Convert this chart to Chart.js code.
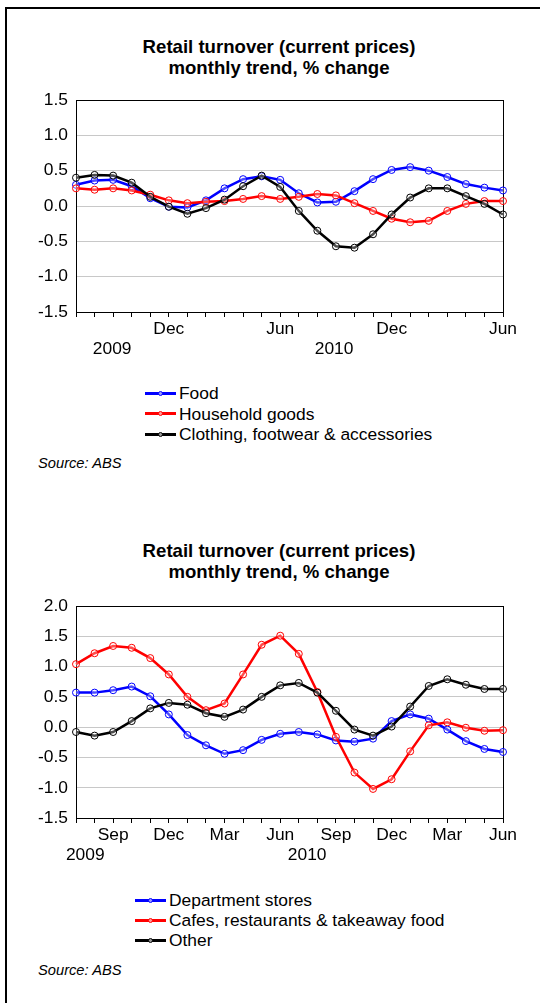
<!DOCTYPE html>
<html lang="en">
<head>
<meta charset="UTF-8">
<title>Retail turnover (current prices)</title>
<style>
  body { margin: 0; background: #fff; color: #000; font-family: "Liberation Sans", Arial, sans-serif; }
  #page { position: relative; width: 540px; height: 1003px; overflow: hidden; }
  #frame { position: absolute; left: 5px; top: 7px; width: 600px; height: 1100px; border-top: 2px solid #000; border-left: 2px solid #000; }
  .title { position: absolute; left: 0; width: 558px; text-align: center; font-weight: bold; font-size: 18.6px; line-height: 20.5px; }
  .chart-box { position: absolute; left: 0; width: 540px; }
  .legend { position: absolute; font-size: 17.4px; }
  .legend .item { display: flex; align-items: center; white-space: nowrap; }
  .legend .key { position: relative; width: 31px; height: 3px; margin-right: 3px; }
  .legend .key::after { content: ''; position: absolute; left: 13px; top: -1px; width: 3px; height: 3px;
    border: 1px solid; border-color: inherit; border-radius: 50%; background: rgba(255,255,255,0.6); }
  .source { position: absolute; left: 38px; font-style: italic; font-size: 14.7px; line-height: 17px; }
</style>
<script src="https://cdn.jsdelivr.net/npm/chart.js"></script>
</head>
<body>
<div id="page">
  <div id="frame"></div>

  <div class="title" style="top:37px">Retail turnover (current prices)<br>monthly trend, % change</div>
  <div class="chart-box" style="top:80px; height:290px"><canvas id="chart1"></canvas></div>
  <div class="legend" id="legend1" style="left:145px; top:383px; line-height:20.5px"></div>
  <div class="source" style="top:455px">Source: ABS</div>

  <div class="title" style="top:541px">Retail turnover (current prices)<br>monthly trend, % change</div>
  <div class="chart-box" style="top:580px; height:300px"><canvas id="chart2"></canvas></div>
  <div class="legend" id="legend2" style="left:135px; top:890px; line-height:20px"></div>
  <div class="source" style="top:962px">Source: ABS</div>
</div>

<script>
  // months along the axis, Jul through Jun twice
  const months = ['Jul', 'Aug', 'Sep', 'Oct', 'Nov', 'Dec', 'Jan', 'Feb', 'Mar', 'Apr', 'May', 'Jun',
                  'Jul', 'Aug', 'Sep', 'Oct', 'Nov', 'Dec', 'Jan', 'Feb', 'Mar', 'Apr', 'May', 'Jun'];

  // top chart
  const shownMonths1 = ['Dec', 'Jun'];
  const years1 = ['2009', '2010'];
  const food      = [0.30, 0.36, 0.37, 0.28, 0.11, -0.01, -0.02, 0.08, 0.25, 0.38, 0.42, 0.37,
                     0.18, 0.05, 0.06, 0.21, 0.38, 0.51, 0.55, 0.50, 0.41, 0.31, 0.26, 0.22];
  const household = [0.25, 0.23, 0.25, 0.22, 0.16, 0.08, 0.04, 0.06, 0.07, 0.10, 0.14, 0.10,
                     0.13, 0.17, 0.15, 0.04, -0.07, -0.18, -0.23, -0.21, -0.07, 0.03, 0.07, 0.07];
  const clothing  = [0.40, 0.44, 0.43, 0.33, 0.13, -0.01, -0.11, -0.03, 0.09, 0.28, 0.43, 0.27,
                     -0.07, -0.35, -0.57, -0.59, -0.40, -0.12, 0.12, 0.25, 0.25, 0.14, 0.03, -0.12];

  // bottom chart
  const shownMonths2 = ['Sep', 'Dec', 'Mar', 'Jun'];
  const years2 = ['2009', '2010'];
  const deptStores = [0.57, 0.57, 0.61, 0.67, 0.51, 0.21, -0.13, -0.30, -0.44, -0.38, -0.21, -0.11,
                      -0.08, -0.12, -0.22, -0.24, -0.19, 0.10, 0.21, 0.14, -0.04, -0.23, -0.36, -0.41];
  const cafes      = [1.04, 1.22, 1.34, 1.31, 1.14, 0.87, 0.50, 0.28, 0.39, 0.87, 1.36, 1.51,
                      1.21, 0.58, -0.16, -0.75, -1.02, -0.86, -0.40, 0.03, 0.08, -0.01, -0.06, -0.05];
  const other      = [-0.08, -0.14, -0.08, 0.10, 0.31, 0.40, 0.37, 0.23, 0.17, 0.29, 0.50, 0.69,
                      0.73, 0.57, 0.27, -0.04, -0.14, 0.01, 0.34, 0.68, 0.79, 0.70, 0.63, 0.63];

  const FONT = '"Liberation Sans", Arial, sans-serif';
  Chart.defaults.font.family = FONT;
  Chart.defaults.color = '#000';

  // box round the plot area (Chart.js only draws the left and bottom borders)
  const plotFrame = {
    id: 'plotFrame',
    beforeDatasetsDraw(chart) {
      const { ctx, chartArea: a } = chart;
      ctx.save();
      ctx.strokeStyle = '#000';
      ctx.lineWidth = 1;
      ctx.strokeRect(Math.round(a.left) + 0.5, Math.round(a.top) + 0.5,
                     Math.round(a.right - a.left), Math.round(a.bottom - a.top));
      ctx.restore();
    }
  };

  // second row of x labels: the years
  const yearRow = {
    id: 'yearRow',
    afterDraw(chart, args, opts) {
      const x = chart.scales.x;
      const ctx = chart.ctx;
      ctx.save();
      ctx.font = '17.4px ' + FONT;
      ctx.fillStyle = '#000';
      ctx.textAlign = 'center';
      ctx.textBaseline = 'middle';
      opts.labels.forEach((t, i) => ctx.fillText(t, x.getPixelForValue(opts.at[i]), x.top + opts.offset));
      ctx.restore();
    }
  };

  function line(label, data, color, order) {
    return {
      label, data, order,
      borderColor: color,
      borderWidth: 2.5,
      pointRadius: 3.5,
      pointBorderWidth: 1,
      pointBorderColor: color,
      pointBackgroundColor: 'rgba(255,255,255,0.3)',
      tension: 0,
      clip: false
    };
  }

  function buildLegend(chart, el) {
    chart.data.datasets.forEach(ds => {
      const row = document.createElement('div');
      row.className = 'item';
      const key = document.createElement('span');
      key.className = 'key';
      key.style.background = ds.borderColor;
      key.style.borderColor = ds.borderColor;
      row.appendChild(key);
      row.appendChild(document.createTextNode(ds.label));
      el.appendChild(row);
    });
  }

  function makeChart(id, datasets, o) {
    const chart = new Chart(document.getElementById(id), {
      type: 'line',
      data: { labels: months, datasets },
      options: {
        responsive: true,
        maintainAspectRatio: false,
        animation: false,
        layout: { padding: { top: o.padTop, right: 37, left: 0, bottom: 0 } },
        plugins: {
          legend: { display: false },
          tooltip: { enabled: false },
          yearRow: { labels: o.years, at: o.yearAt, offset: 37.5 }
        },
        scales: {
          x: {
            offset: false,
            border: { display: true, color: '#000', width: 1 },
            grid: { drawOnChartArea: false, drawTicks: true, tickLength: 5, color: '#000' },
            ticks: {
              autoSkip: false, maxRotation: 0, padding: 2,
              font: { size: 17.4, lineHeight: 1.2 },
              callback: (v, i) => o.shown.includes(months[i]) ? months[i] : ''
            },
            afterFit: s => { s.height = o.axisHeight; }
          },
          y: {
            min: o.min, max: o.max,
            border: { display: true, color: '#000', width: 1 },
            grid: { color: '#c8c8c8', lineWidth: 1, drawTicks: false },
            ticks: {
              stepSize: 0.5, padding: 8,
              font: { size: 17.4 },
              callback: v => v.toFixed(1)
            },
            afterFit: s => { s.width = 76; }
          }
        }
      },
      plugins: [plotFrame, yearRow]
    });
    return chart;
  }

  const chart1 = makeChart('chart1', [
    line('Food', food, '#0000ff', 3),
    line('Household goods', household, '#ff0000', 2),
    line('Clothing, footwear & accessories', clothing, '#000000', 1)
  ], { min: -1.5, max: 1.5, padTop: 20, axisHeight: 58, shown: shownMonths1, years: years1, yearAt: [1.95, 13.9] });
  buildLegend(chart1, document.getElementById('legend1'));

  const chart2 = makeChart('chart2', [
    line('Department stores', deptStores, '#0000ff', 3),
    line('Cafes, restaurants & takeaway food', cafes, '#ff0000', 2),
    line('Other', other, '#000000', 1)
  ], { min: -1.5, max: 2.0, padTop: 26, axisHeight: 62, shown: shownMonths2, years: years2, yearAt: [0.5, 12.45] });
  buildLegend(chart2, document.getElementById('legend2'));
</script>
</body>
</html>
